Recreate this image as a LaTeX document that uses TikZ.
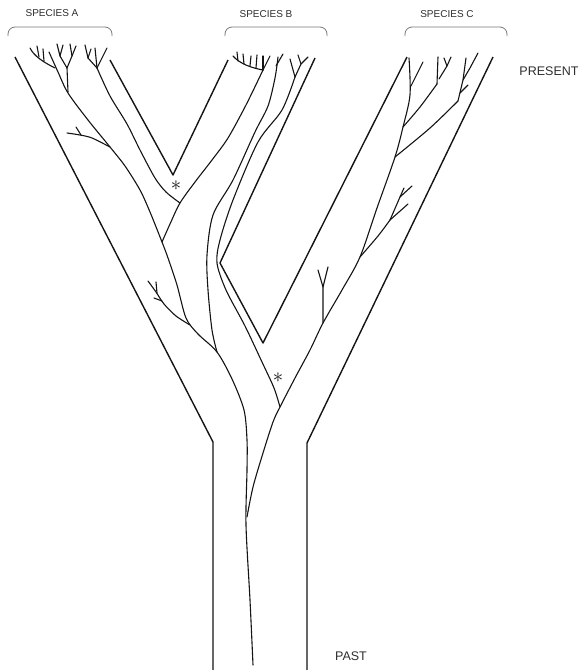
\documentclass[tikz,border=0pt]{standalone}
\usepackage{fontspec}
\setmainfont{Liberation Sans}
\usepackage{tikz}
\definecolor{inkBlack}{RGB}{20, 20, 20}
\definecolor{braceGray}{RGB}{120, 120, 120}
\definecolor{textGray}{RGB}{45, 45, 45}

\begin{document}
\begin{tikzpicture}[x=1pt, y=-1pt,
    tube/.style={inkBlack, line width=1.4pt, line join=round},
    lin/.style={inkBlack, line width=1.1pt, line cap=round},
    brace/.style={braceGray, line width=0.8pt, rounded corners=7pt},
    lbl/.style={textGray, font=\fontsize{10}{12}\selectfont, inner sep=0pt},
    tag/.style={textGray, font=\fontsize{12.5}{14}\selectfont, inner sep=0pt},
    star/.style={inkBlack, font=\fontsize{22}{22}\selectfont, inner sep=0pt}]
  \useasboundingbox (0,0) rectangle (582,670);

  % species labels and brackets
  \node[lbl] (spA) at (52,13) {SPECIES A};
  \node[lbl] (spB) at (266,14) {SPECIES B};
  \node[lbl] (spC) at (447,14) {SPECIES C};
  \node[tag] (present) at (549,71) {PRESENT};
  \node[tag] (past) at (351,656) {PAST};
  \draw[brace] (8,36) -- (8,27) -- (112,27) -- (112,36);
  \draw[brace] (225,36) -- (225,27) -- (327,27) -- (327,36);
  \draw[brace] (405,36) -- (405,27) -- (507,27) -- (507,36);

  % the outline of the tree
  \draw[tube] (15,57) -- (213,442) -- (213,670);
  \draw[tube] (493,57) -- (307,443) -- (307,670);
  \draw[tube] (110,60) -- (173,175) -- (228,60);
  \draw[tube] (315,58) -- (220,263) -- (263,343) -- (407,57);

  % lineages
  \draw[lin] plot[smooth] coordinates {(253,665) (250,600) (246,525) (247,470) (247,440) (244,410) (232,379) (217,352) (198,334) (186,318) (177,285) (168,258) (162,242) (150,212) (140,190) (125,166) (110,147) (88,120) (68,93) (58,72) (49,52)};
  \draw[lin] plot[smooth] coordinates {(162,242) (170,224) (180,203) (195,182) (212,160) (228,138) (246,105) (263,70)};
  \draw[lin] plot[smooth] coordinates {(180,203) (166,192) (155,178) (140,150) (127,124) (110,96) (97,68)};
  \draw[lin] plot[smooth] coordinates {(217,352) (212,330) (208,290) (207,255) (213,215) (233,180) (255,132) (268,106) (275,78) (278,57)};
  \draw[lin] plot[smooth] coordinates {(280,407) (274,388) (262,362) (245,326) (226,290) (217,263) (220,240) (233,200) (258,142) (282,110) (295,77)};
  \draw[lin] plot[smooth] coordinates {(247,517) (253,487) (263,453) (273,422) (280,407) (295,378) (310,350) (323,323) (342,290) (360,257) (377,208) (395,157) (403,127) (410,95) (409,58)};

  % twigs of species A
  \draw[lin] (55,68) .. controls (43,62) and (34,56) .. (30,48);
  \draw[lin] (39,57) -- (37,46);
  \draw[lin] (44,61) -- (43,49);
  \draw[lin] (68,92) -- (67,68) -- (60,56) -- (57,44);
  \draw[lin] (60,56) -- (63,45);
  \draw[lin] (67,68) -- (72,56) -- (70,44);
  \draw[lin] (72,56) -- (76,46);
  \draw[lin] (97,68) -- (88,58) -- (85,45);
  \draw[lin] (88,58) -- (91,49);
  \draw[lin] (97,68) -- (95,48);
  \draw[lin] (97,68) -- (102,58) -- (107,48);
  \draw[lin] plot[smooth] coordinates {(110,147) (92,138) (80,135) (67,133)};
  \draw[lin] (81,135) -- (76,127);
  \draw[lin] plot[smooth] coordinates {(190,325) (176,316) (164,304) (156,292) (148,281)};
  \draw[lin] (157,293) -- (156,282);
  \draw[lin] (162,301) -- (154,298);

  % twigs of species B
  \draw[lin] (263,70) .. controls (252,68) and (240,64) .. (233,56);
  \draw[lin] (238,61) -- (237,52);
  \draw[lin] (244,64) -- (243,54);
  \draw[lin] (250,66) -- (251,56);
  \draw[lin] (256,68) -- (257,55);
  \draw[lin] (263,70) -- (263,56);
  \draw[lin] (263,70) -- (270,56);
  \draw[lin] (276,66) -- (283,54);
  \draw[lin] (295,77) -- (290,59);
  \draw[lin] (295,77) -- (301,64) -- (298,55);
  \draw[lin] (301,64) -- (308,57);

  % twigs of species C
  \draw[lin] (411,86) -- (423,62);
  \draw[lin] plot[smooth] coordinates {(403,127) (420,107) (437,84)};
  \draw[lin] (437,84) -- (438,57);
  \draw[lin] (439,79) -- (447,66) -- (451,57);
  \draw[lin] (447,66) -- (444,58);
  \draw[lin] plot[smooth] coordinates {(395,157) (430,128) (458,101)};
  \draw[lin] (458,101) -- (463,80) -- (466,58);
  \draw[lin] (463,80) -- (470,68) -- (478,53);
  \draw[lin] (460,93) -- (468,85);
  \draw[lin] plot[smooth] coordinates {(360,257) (378,236) (390,220)};
  \draw[lin] (390,220) -- (400,197) -- (404,188);
  \draw[lin] (400,197) -- (412,186);
  \draw[lin] (390,220) -- (408,204);
  \draw[lin] (323,323) -- (323,287) -- (318,270);
  \draw[lin] (323,287) -- (328,267);

  % speciation marks
  \node[star] (ast1) at (176,186) {$\ast$};
  \node[star] (ast2) at (278,378) {$\ast$};
\end{tikzpicture}
\end{document}
